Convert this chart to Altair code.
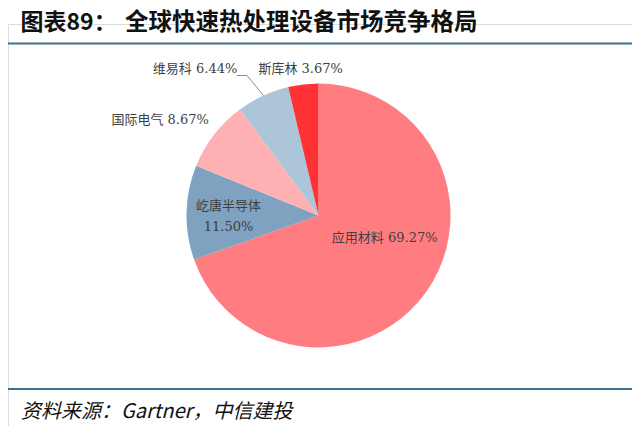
import altair as alt
import pandas as pd

# ---- data ----
companies = ["应用材料", "屹唐半导体", "国际电气", "维易科", "斯库林"]
shares = [69.27, 11.50, 8.67, 6.44, 3.67]
colors = ["#FF7D80", "#7EA2C0", "#FFB0B2", "#ADC5D8", "#FF3335"]
title_prefix = "图表89："
title_text = "全球快速热处理设备市场竞争格局"
source_text = "资料来源：Gartner，中信建投"

labels = []
for c, s in zip(companies, shares):
    sep = "\n" if c == "屹唐半导体" else " "
    labels.append(f"{c}{sep}{s:.2f}%")

df = pd.DataFrame({
    "company": companies,
    "share": shares,
    "idx": list(range(len(companies))),
    "label": labels,
})

TOP_PAD = 16
W, H = 624, 402
CX, CY = 310.5, 191.5
R = 132
LABEL_FONT = "DejaVu Serif, Noto Sans CJK SC"

base = alt.Chart(df).encode(
    theta=alt.Theta("share:Q", stack=True),
    order=alt.Order("idx:Q"),
    x=alt.value(CX),
    y=alt.value(CY),
)

pie = base.mark_arc(outerRadius=R).encode(
    color=alt.Color("company:N", scale=alt.Scale(domain=companies, range=colors), legend=None)
)

# label placement per slice: (radius, dx, dy)
place = {
    "应用材料": (70, 9, -18),
    "屹唐半导体": (96, 6, -7),
    "国际电气": (170, -24, 9),
    "维易科": (160, -56, -1),
    "斯库林": (146, -1, -1),
}

label_layers = []
for c in companies:
    r, dx, dy = place[c]
    label_layers.append(
        base.mark_text(
            radius=r, dx=dx, dy=dy, fontSize=13, font=LABEL_FONT, color="#404040",
            lineBreak="\n", lineHeight=21, align="center", baseline="middle",
        ).encode(
            text=alt.condition(f"datum.company == '{c}'", "label:N", alt.value(""))
        )
    )

one = pd.DataFrame({"a": [0]})
leader1 = alt.Chart(one).mark_rule(color="#8C8C8C", strokeWidth=1).encode(
    x=alt.value(229), x2=alt.value(239), y=alt.value(51.5), y2=alt.value(51.5))
leader2 = alt.Chart(one).mark_rule(color="#8C8C8C", strokeWidth=1).encode(
    x=alt.value(239), x2=alt.value(255.5), y=alt.value(51.5), y2=alt.value(71.5))

top_rule = alt.Chart(one).mark_rule(color="#3E6F8E", strokeWidth=2.2).encode(
    x=alt.value(-8), x2=alt.value(624), y=alt.value(19.5))
bottom_rule = alt.Chart(one).mark_rule(color="#3E6F8E", strokeWidth=2.2).encode(
    x=alt.value(-8), x2=alt.value(624), y=alt.value(365))

t1 = alt.Chart(one).mark_text(
    text=title_prefix, font="Noto Sans CJK SC", fontWeight="bold", fontSize=23,
    color="#111111", align="left", baseline="middle").encode(x=alt.value(12.5), y=alt.value(-1))
t2 = alt.Chart(one).mark_text(
    text=title_text, font="Noto Sans CJK SC", fontWeight="bold", fontSize=23.5,
    color="#111111", align="left", baseline="middle").encode(x=alt.value(117), y=alt.value(-1))
src = alt.Chart(one).mark_text(
    text=source_text, font="Noto Sans CJK SC", fontStyle="italic", fontSize=20,
    color="#111111", align="left", baseline="middle").encode(x=alt.value(13), y=alt.value(387.5))

chart = alt.layer(
    pie, *label_layers, leader1, leader2, top_rule, bottom_rule, t1, t2, src
).properties(
    width=W, height=H, autosize=alt.AutoSizeParams(type="none"),
    padding={"top": TOP_PAD, "left": 0, "right": 0, "bottom": 0},
).configure_view(stroke=None).configure(background="white")

chart.save("out.html", embed_options={"renderer": "svg", "actions": False})
